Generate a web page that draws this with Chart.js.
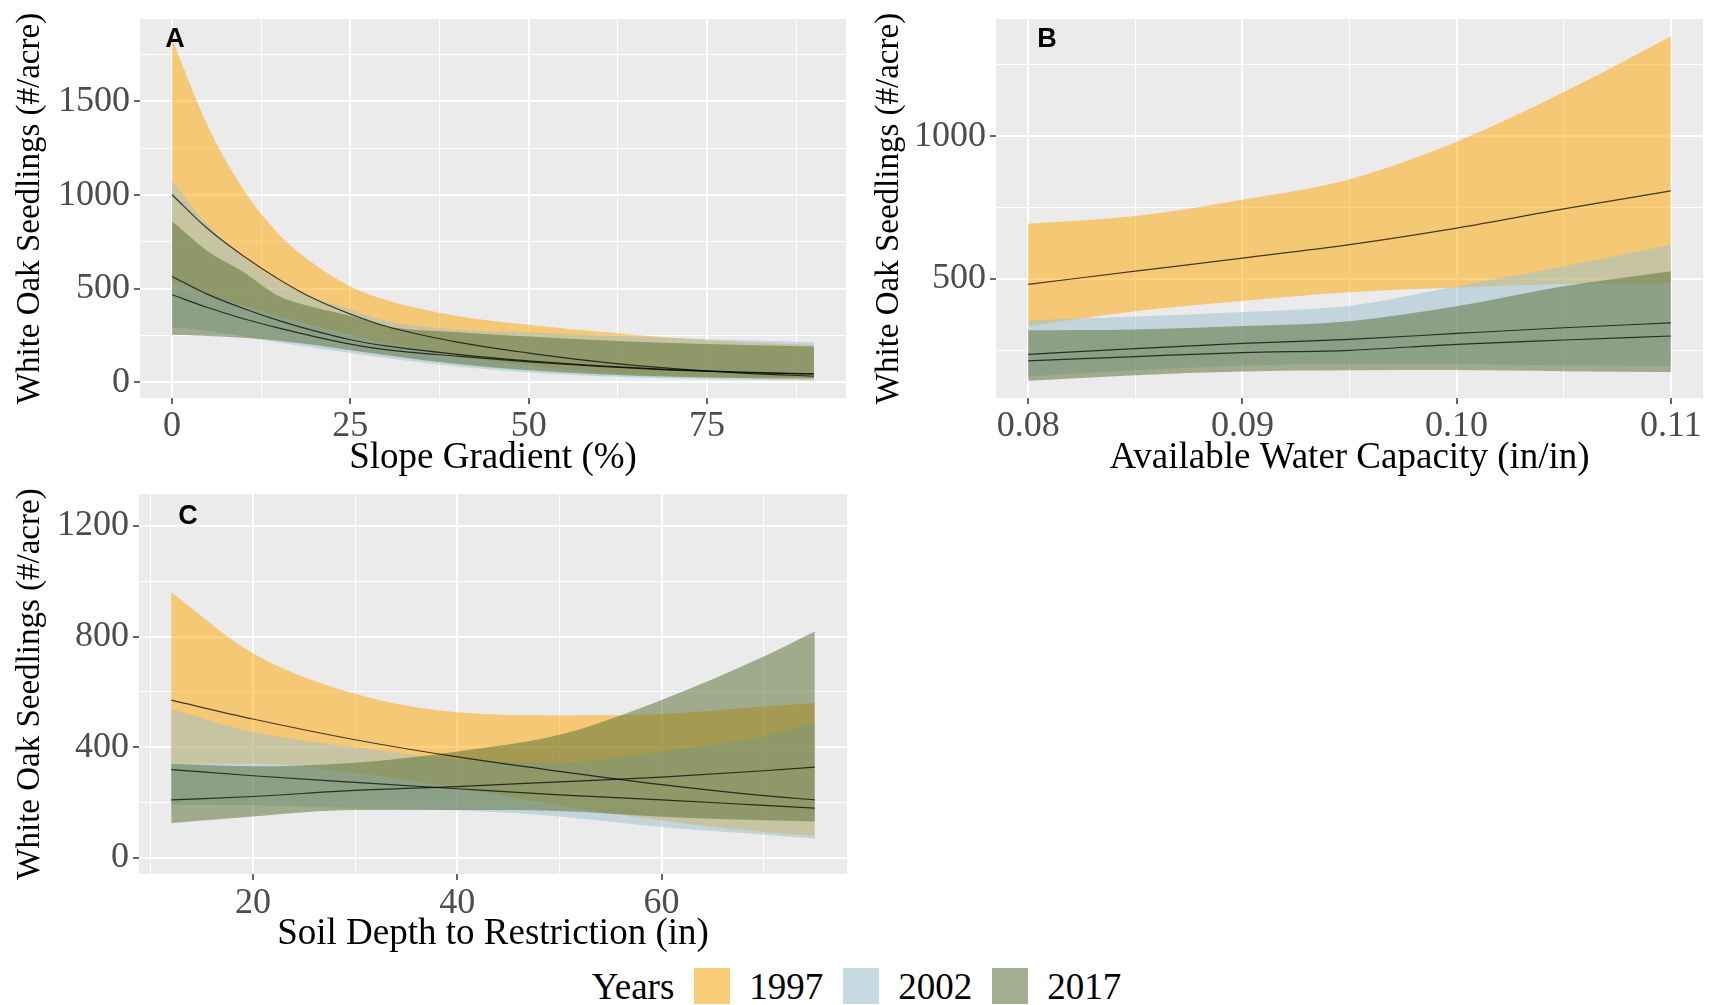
<!DOCTYPE html>
<html>
<head>
<meta charset="utf-8">
<script src="https://cdn.jsdelivr.net/npm/chart.js@4.4.1/dist/chart.umd.min.js"></script>
<style>
  html, body { margin: 0; padding: 0; background: #ffffff; }
  body { width: 1713px; height: 1005px; position: relative; overflow: hidden; font-family: "Liberation Serif", "Times New Roman", serif; }
  canvas { position: absolute; display: block; }
  #legend { position: absolute; left: 0; top: 962px; width: 1713px; height: 48px; display: flex; align-items: center; justify-content: center; font-size: 37px; color: #000; }
  #legend .ttl { margin-right: 20px; }
  #legend .sw { width: 36px; height: 36px; background: #F2F2F2; position: relative; margin-right: 19px; }
  #legend .sw div { position: absolute; inset: 0; }
  #legend .lab { margin-right: 20px; }
</style>
</head>
<body>
<canvas id="cA" width="860" height="480" style="left:0;top:0"></canvas>
<canvas id="cB" width="853" height="480" style="left:860px;top:0"></canvas>
<canvas id="cC" width="860" height="480" style="left:0;top:480px"></canvas>
<div id="legend"></div>
<script>
// ---------------- DATA ----------------
const years = ['1997', '2002', '2017'];

// Panel A : Slope Gradient (%)
const slopeX        = [0, 5, 10, 15, 20, 25, 30, 40, 50, 60, 70, 80, 90];
const slopeMean1997 = [1002, 820, 675, 550, 445, 365, 300, 215, 157, 110, 75, 50, 33];
const slopeLo1997   = [539, 470, 410, 355, 300, 255, 210, 140, 90, 55, 35, 22, 14];
const slopeHi1997   = [1830, 1370, 1030, 790, 630, 512, 440, 355, 308, 270, 238, 215, 200];
const slopeMean2002 = [566, 470, 395, 330, 275, 228, 195, 150, 115, 88, 68, 55, 46];
const slopeLo2002   = [295, 275, 245, 212, 185, 157, 130, 85, 53, 33, 21, 15, 11];
const slopeHi2002   = [1077, 840, 670, 540, 450, 390, 330, 282, 267, 250, 237, 225, 213];
const slopeMean2017 = [468, 400, 340, 290, 245, 205, 175, 140, 110, 85, 66, 53, 45];
const slopeLo2017   = [255, 248, 238, 222, 200, 172, 145, 98, 65, 44, 31, 24, 22];
const slopeHi2017   = [860, 700, 590, 460, 400, 355, 300, 268, 245, 225, 210, 200, 192];

// Panel B : Available Water Capacity (in/in)
const awcX        = [0.080, 0.085, 0.090, 0.095, 0.100, 0.105, 0.110];
const awcMean1997 = [481, 527, 573, 620, 678, 745, 808];
const awcLo1997   = [335, 387, 423, 453, 470, 482, 486];
const awcHi1997   = [693, 720, 777, 849, 980, 1154, 1350];
const awcMean2002 = [236, 256, 274, 288, 309, 329, 346];
const awcLo2002   = [158, 180, 196, 203, 201, 198, 194];
const awcHi2002   = [355, 368, 384, 406, 474, 544, 620];
const awcMean2017 = [213, 228, 242, 250, 271, 286, 300];
const awcLo2017   = [143, 163, 176, 180, 181, 177, 174];
const awcHi2017   = [320, 323, 335, 352, 404, 474, 527];

// Panel C : Soil Depth to Restriction (in)
const depthX        = [12, 20, 30, 40, 50, 60, 70, 75];
const depthMean1997 = [570, 502, 427, 365, 313, 265, 225, 210];
const depthLo1997   = [340, 340, 307, 253, 190, 135, 93, 80];
const depthHi1997   = [960, 740, 593, 526, 515, 520, 547, 560];
const depthMean2002 = [319, 297, 273, 250, 228, 210, 190, 180];
const depthLo2002   = [192, 190, 180, 172, 150, 112, 84, 70];
const depthHi2002   = [538, 455, 400, 355, 345, 385, 440, 490];
const depthMean2017 = [210, 222, 244, 258, 275, 292, 315, 328];
const depthLo2017   = [126, 150, 173, 173, 170, 149, 136, 132];
const depthHi2017   = [340, 331, 344, 385, 445, 571, 728, 818];

// Tick values and labels
const slopeTicksX = [0, 25, 50, 75];            const slopeTickLabelsX = ['0', '25', '50', '75'];
const slopeTicksY = [0, 500, 1000, 1500];       const slopeTickLabelsY = ['0', '500', '1000', '1500'];
const awcTicksX   = [0.08, 0.09, 0.10, 0.11];   const awcTickLabelsX   = ['0.08', '0.09', '0.10', '0.11'];
const awcTicksY   = [500, 1000];                const awcTickLabelsY   = ['500', '1000'];
const depthTicksX = [20, 40, 60];               const depthTickLabelsX = ['20', '40', '60'];
const depthTicksY = [0, 400, 800, 1200];        const depthTickLabelsY = ['0', '400', '800', '1200'];

const yTitle = 'White Oak Seedlings (#/acre)';

// ---------------- STYLE ----------------
const SERIF = '"Liberation Serif", "Times New Roman", serif';
const FILL = { '1997': 'rgba(255,165,0,0.5)', '2002': 'rgba(154,192,205,0.5)', '2017': 'rgba(85,107,47,0.5)' };
const LINE = 'rgba(0,0,0,0.72)';

function pts(xs, ys) { return xs.map((x, i) => ({ x: x, y: ys[i] })); }

function makeDatasets(xs, series) {
  const ds = [];
  series.forEach((s, k) => {
    const ord = 4 - k;
    ds.push({ label: s.year + ' upper', data: pts(xs, s.hi), fill: '+1', backgroundColor: FILL[s.year],
      borderColor: 'rgba(0,0,0,0)', borderWidth: 0, pointRadius: 0, order: ord, cubicInterpolationMode: 'monotone' });
    ds.push({ label: s.year + ' lower', data: pts(xs, s.lo), fill: false, backgroundColor: 'rgba(0,0,0,0)',
      borderColor: 'rgba(0,0,0,0)', borderWidth: 0, pointRadius: 0, order: ord, cubicInterpolationMode: 'monotone' });
  });
  series.forEach(s => {
    ds.push({ label: s.year, data: pts(xs, s.mean), fill: false, borderColor: LINE, borderWidth: 1.2,
      pointRadius: 0, order: 0, cubicInterpolationMode: 'monotone' });
  });
  return ds;
}

function axis(o) {
  const step = o.majors.length > 1 ? o.majors[1] - o.majors[0] : 1;
  const all = [];
  const n0 = o.majors[0] - step, n1 = o.majors[o.majors.length - 1] + step;
  for (let k = 0; n0 + k * step / 2 <= n1 + 1e-9; k++) {
    const v = +(n0 + k * step / 2).toFixed(6);
    if (v >= o.min - 1e-9 && v <= o.max + 1e-9) all.push(v);
  }
  const idx = v => o.majors.findIndex(m => Math.abs(m - v) < Math.abs(step) * 1e-3);
  return {
    type: 'linear', min: o.min, max: o.max,
    afterBuildTicks: s => { s.ticks = all.map(v => ({ value: v })); },
    afterFit: s => {
      if (o.horizontal) { s.height = o.fit; s.paddingLeft = 0; s.paddingRight = 0; }
      else { s.width = o.fit; s.paddingTop = 0; s.paddingBottom = 0; }
    },
    border: { display: false },
    grid: {
      color: '#FFFFFF',
      lineWidth: c => (c.tick && idx(c.tick.value) >= 0) ? 2 : 1,
      tickColor: c => (c.tick && idx(c.tick.value) >= 0) ? '#333333' : 'rgba(0,0,0,0)',
      tickWidth: 1.5, tickLength: 6, drawTicks: true
    },
    ticks: {
      autoSkip: false, maxRotation: 0, minRotation: 0, padding: o.tickPad,
      color: '#4D4D4D', font: { family: SERIF, size: 36, lineHeight: 1.2 },
      callback: v => { const i = idx(v); return i >= 0 ? o.labels[i] : ''; }
    },
    title: { display: true, text: o.title, color: '#000000',
      font: { family: SERIF, size: o.titleSize, lineHeight: 1.2 }, padding: o.titlePad }
  };
}

const bgPlugin = {
  id: 'panelBg',
  beforeDraw(chart) {
    const a = chart.chartArea, ctx = chart.ctx;
    ctx.save();
    ctx.fillStyle = '#EBEBEB';
    ctx.fillRect(a.left, a.top, a.right - a.left, a.bottom - a.top);
    ctx.restore();
  }
};
const labelPlugin = {
  id: 'panelLabel',
  afterDatasetsDraw(chart, args, o) {
    const a = chart.chartArea, ctx = chart.ctx;
    ctx.save();
    ctx.font = 'bold 27px "Liberation Sans", Arial, sans-serif';
    ctx.fillStyle = '#000000';
    ctx.textAlign = 'center';
    ctx.textBaseline = 'middle';
    ctx.fillText(o.text, a.left + o.dx, a.top + o.dy);
    ctx.restore();
  }
};

function makeChart(id, cfg) {
  return new Chart(document.getElementById(id), {
    type: 'line',
    data: { datasets: makeDatasets(cfg.xs, cfg.series) },
    plugins: [bgPlugin, labelPlugin],
    options: {
      responsive: false, animation: false, events: [],
      layout: { padding: cfg.padding },
      plugins: { legend: { display: false }, tooltip: { enabled: false },
        filler: { propagate: false }, panelLabel: cfg.label },
      scales: { x: cfg.x, y: cfg.y }
    }
  });
}

makeChart('cA', {
  xs: slopeX,
  series: [
    { year: '1997', mean: slopeMean1997, lo: slopeLo1997, hi: slopeHi1997 },
    { year: '2002', mean: slopeMean2002, lo: slopeLo2002, hi: slopeHi2002 },
    { year: '2017', mean: slopeMean2017, lo: slopeLo2017, hi: slopeHi2017 }
  ],
  padding: { top: 19, right: 14, bottom: 0, left: 0 },
  label: { text: 'A', dx: 35, dy: 21 },
  x: axis({ min: -4.5, max: 94.5, majors: slopeTicksX, labels: slopeTickLabelsX, title: 'Slope Gradient (%)',
            titleSize: 37, titlePad: { top: 0, bottom: 0 }, tickPad: 1, horizontal: true, fit: 82 }),
  y: axis({ min: -83, max: 1940, majors: slopeTicksY, labels: slopeTickLabelsY, title: yTitle,
            titleSize: 33, titlePad: { top: 11, bottom: 0 }, tickPad: 4, horizontal: false, fit: 140 })
});

makeChart('cB', {
  xs: awcX,
  series: [
    { year: '1997', mean: awcMean1997, lo: awcLo1997, hi: awcHi1997 },
    { year: '2002', mean: awcMean2002, lo: awcLo2002, hi: awcHi2002 },
    { year: '2017', mean: awcMean2017, lo: awcLo2017, hi: awcHi2017 }
  ],
  padding: { top: 19, right: 10, bottom: 0, left: 0 },
  label: { text: 'B', dx: 51, dy: 21 },
  x: axis({ min: 0.0785, max: 0.1115, majors: awcTicksX, labels: awcTickLabelsX, title: 'Available Water Capacity (in/in)',
            titleSize: 37, titlePad: { top: 0, bottom: 0 }, tickPad: 1, horizontal: true, fit: 82 }),
  y: axis({ min: 83, max: 1410, majors: awcTicksY, labels: awcTickLabelsY, title: yTitle,
            titleSize: 33, titlePad: { top: 10, bottom: 0 }, tickPad: 4, horizontal: false, fit: 136 })
});

makeChart('cC', {
  xs: depthX,
  series: [
    { year: '1997', mean: depthMean1997, lo: depthLo1997, hi: depthHi1997 },
    { year: '2002', mean: depthMean2002, lo: depthLo2002, hi: depthHi2002 },
    { year: '2017', mean: depthMean2017, lo: depthLo2017, hi: depthHi2017 }
  ],
  padding: { top: 14, right: 13, bottom: 0, left: 0 },
  label: { text: 'C', dx: 49, dy: 23 },
  x: axis({ min: 8.85, max: 78.15, majors: depthTicksX, labels: depthTickLabelsX, title: 'Soil Depth to Restriction (in)',
            titleSize: 37, titlePad: { top: 0, bottom: 4 }, tickPad: 2, horizontal: true, fit: 86 }),
  y: axis({ min: -58, max: 1315, majors: depthTicksY, labels: depthTickLabelsY, title: yTitle,
            titleSize: 33, titlePad: { top: 11, bottom: 0 }, tickPad: 4, horizontal: false, fit: 139 })
});

// Legend (shared, HTML text)
const legend = document.getElementById('legend');
const ttl = document.createElement('span'); ttl.className = 'ttl'; ttl.textContent = 'Years'; legend.appendChild(ttl);
years.forEach((y, i) => {
  const sw = document.createElement('span'); sw.className = 'sw';
  const inner = document.createElement('div'); inner.style.background = FILL[y]; sw.appendChild(inner);
  legend.appendChild(sw);
  const lab = document.createElement('span'); lab.className = 'lab'; lab.textContent = y;
  if (i === years.length - 1) lab.style.marginRight = '0';
  legend.appendChild(lab);
});
</script>
</body>
</html>
